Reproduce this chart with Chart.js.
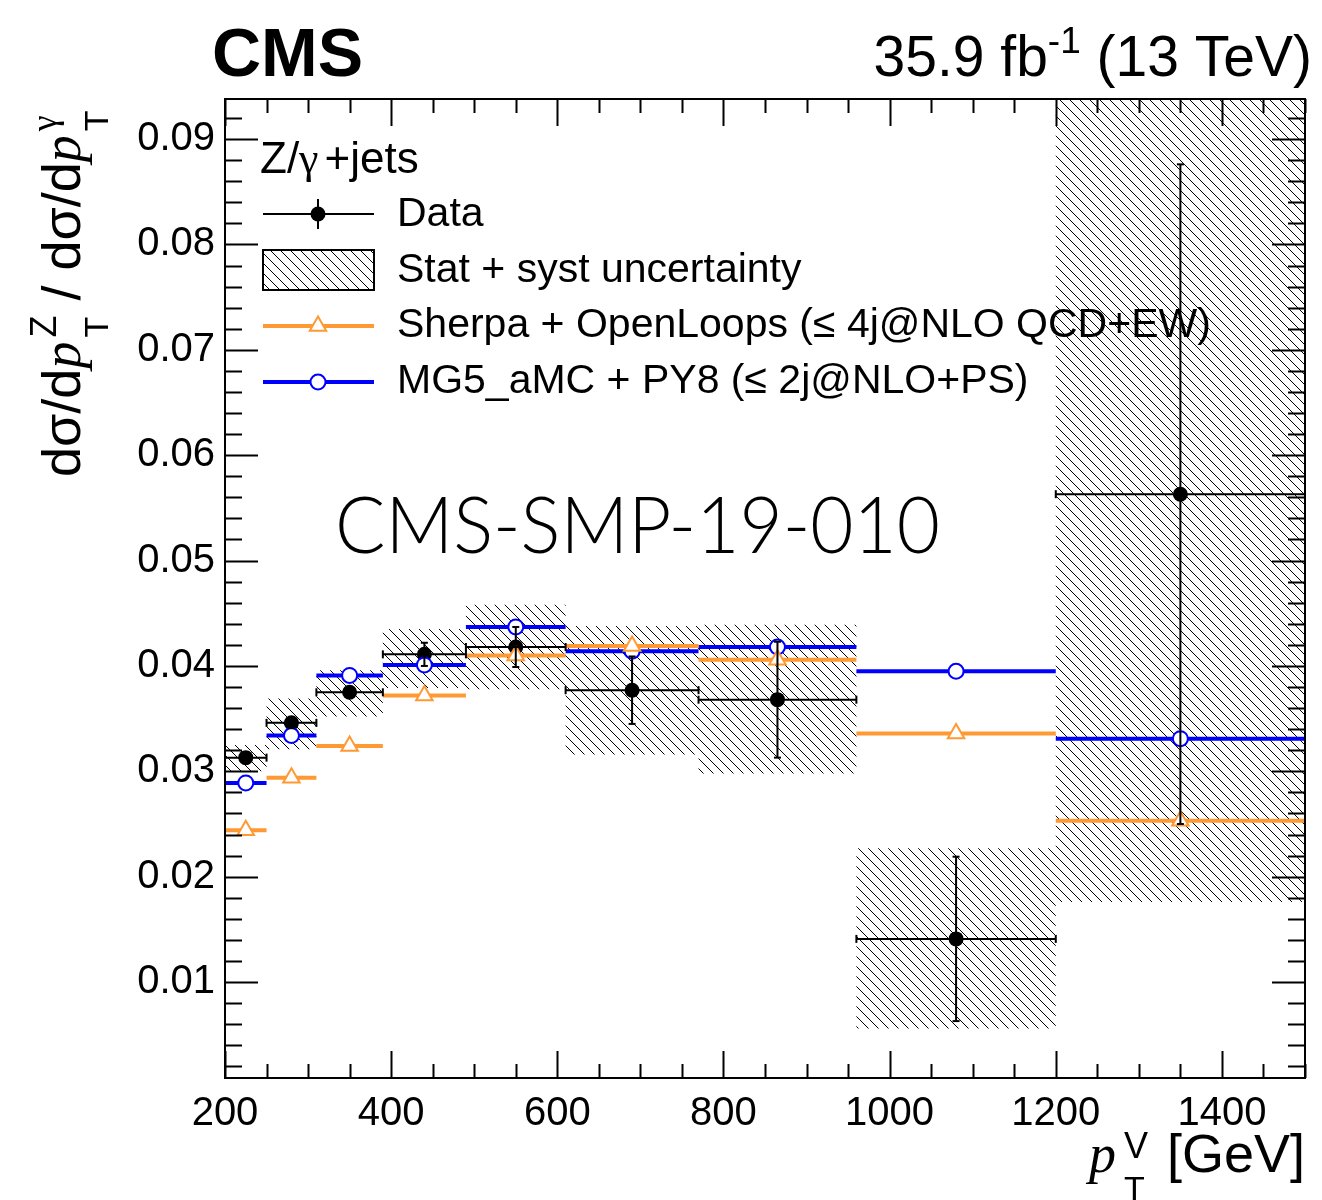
<!DOCTYPE html>
<html>
<head>
<meta charset="utf-8">
<title>Z/γ+jets ratio vs pT</title>
<script src="https://cdn.jsdelivr.net/npm/chart.js@4.4.1/dist/chart.umd.min.js"></script>
<style>
  html, body { margin: 0; padding: 0; background: #fff; }
  #chart { display: block; }
</style>
</head>
<body>
<canvas id="chart" width="1322" height="1200"></canvas>
<script>
// pT bins (GeV)
const binEdges = [200, 250, 310, 390, 490, 610, 770, 960, 1200, 1500];
const binCentres = [225, 280, 350, 440, 550, 690, 865, 1080, 1350];

// measured Z/gamma ratio with its error bar
const dataRatio = [0.0313, 0.0346, 0.0375, 0.0411, 0.0418, 0.0377, 0.0368, 0.0141, 0.0563];
const dataErr = [0.0005, 0.0005, 0.0005, 0.0011, 0.0019, 0.0032, 0.0055, 0.0078, 0.0313];

// stat + syst band
const bandLow = [0.0300, 0.0321, 0.0352, 0.0379, 0.0378, 0.0316, 0.0298, 0.0056, 0.0176];
const bandHigh = [0.0325, 0.0369, 0.0396, 0.0435, 0.0458, 0.0438, 0.0439, 0.0227, 0.0950];

// predictions
const sherpaRatio = [0.0244, 0.0294, 0.0324, 0.0372, 0.0410, 0.0419, 0.0406, 0.0336, 0.0253];
const mgRatio = [0.0289, 0.0334, 0.0391, 0.0401, 0.0437, 0.0414, 0.0418, 0.0395, 0.0331];

const xTicks = [200, 400, 600, 800, 1000, 1200, 1400];
const yTicks = [0.01, 0.02, 0.03, 0.04, 0.05, 0.06, 0.07, 0.08, 0.09];

const legendTitle = ['Z/', 'γ', '+jets'];
const legendLabels = [
  'Data',
  'Stat + syst uncertainty',
  'Sherpa + OpenLoops (≤ 4j@NLO QCD+EW)',
  'MG5_aMC + PY8 (≤ 2j@NLO+PS)'
];

const SANS = '"Liberation Sans", Arial, Helvetica, sans-serif';
const SERIF = '"Liberation Serif", "Times New Roman", serif';
const ORANGE = '#ff9933';
const BLUE = '#0000ff';

function hatchPattern() {
  const size = 10;
  const tile = document.createElement('canvas');
  tile.width = size;
  tile.height = size;
  const t = tile.getContext('2d');
  t.fillStyle = '#000';
  for (let i = 0; i < size; i++) t.fillRect(i, i, 1, 1);
  return t.createPattern(tile, 'repeat');
}
const HATCH = hatchPattern();

// one flat segment per bin, marker in the middle, gap after it
function binSegments(values) {
  const pts = [];
  values.forEach((v, i) => {
    pts.push({ x: binEdges[i], y: v }, { x: binCentres[i], y: v },
      { x: binEdges[i + 1], y: v }, { x: binEdges[i + 1], y: null });
  });
  return pts;
}

// horizontal bin-width bar and vertical error bar for every data point
function errorBars() {
  const pts = [];
  dataRatio.forEach((v, i) => {
    pts.push({ x: binEdges[i], y: v }, { x: binEdges[i + 1], y: v }, { x: binEdges[i + 1], y: null });
    pts.push({ x: binCentres[i], y: v - dataErr[i] }, { x: binCentres[i], y: v + dataErr[i] },
      { x: binCentres[i], y: null });
  });
  return pts;
}

function bandEdge(values) {
  return binEdges.map((x, i) => ({ x, y: values[Math.min(i, values.length - 1)] }));
}

// text runs with super/subscripts; a run may hold a stack of pieces sharing one advance
function drawRich(ctx, parts, x, y, measureOnly) {
  let cx = x;
  for (const p of parts) {
    const items = p.stack || [p];
    let w = 0;
    for (const it of items) {
      ctx.font = it.font;
      if (!measureOnly) ctx.fillText(it.text, cx, y + (it.dy || 0));
      w = Math.max(w, ctx.measureText(it.text).width);
    }
    cx += w + (p.gap || 0);
  }
  return cx - x;
}

const frame = {
  id: 'frame',
  afterDatasetsDraw(chart) {
    const { ctx, chartArea: a, scales: { x, y } } = chart;
    ctx.save();
    ctx.strokeStyle = '#000';
    ctx.lineWidth = 2;
    ctx.beginPath();
    // x ticks every 50 GeV, long ones on the labels
    for (let v = 200; v <= 1500; v += 50) {
      const px = Math.round(x.getPixelForValue(v)) + 0.5;
      const len = v % 200 === 0 ? 27 : 14;
      ctx.moveTo(px, a.bottom); ctx.lineTo(px, a.bottom - len);
      ctx.moveTo(px, a.top); ctx.lineTo(px, a.top + len);
    }
    // y ticks every 0.002
    for (let k = 1; k <= 46; k++) {
      const py = Math.round(y.getPixelForValue(k * 0.002)) + 0.5;
      const len = k % 5 === 0 ? 33 : 17;
      ctx.moveTo(a.left, py); ctx.lineTo(a.left + len, py);
      ctx.moveTo(a.right, py); ctx.lineTo(a.right - len, py);
    }
    ctx.stroke();
    ctx.strokeRect(a.left, a.top, a.right - a.left, a.bottom - a.top);
    ctx.restore();
  },
  afterDraw(chart) {
    const { ctx } = chart;
    ctx.save();
    ctx.fillStyle = '#000';
    ctx.textBaseline = 'alphabetic';

    // header
    ctx.font = `bold 68px ${SANS}`;
    ctx.fillText('CMS', 212, 76);
    const lumi = [
      { text: '35.9 fb', font: `57px ${SANS}` },
      { text: '-1', font: `37px ${SANS}`, dy: -23 },
      { text: ' (13 TeV)', font: `57px ${SANS}` }
    ];
    const lw = drawRich(ctx, lumi, 0, 0, true);
    drawRich(ctx, lumi, 1312 - lw, 76);

    // analysis tag, squeezed to its slot
    ctx.font = `300 78px Lato, ${SANS}`;
    const tag = 'CMS-SMP-19-010';
    const tw = ctx.measureText(tag).width;
    ctx.save();
    ctx.translate(335, 553);
    ctx.scale(605 / tw, 1);
    ctx.fillText(tag, 0, 0);
    ctx.restore();

    // legend
    drawRich(ctx, [
      { text: legendTitle[0], font: `44px ${SANS}` },
      { text: legendTitle[1], font: `44px ${SERIF}`, gap: 6 },
      { text: legendTitle[2], font: `44px ${SANS}` }
    ], 260, 173);

    const lx0 = 263, lx1 = 374, mx = 318;
    ctx.strokeStyle = '#000';
    ctx.lineWidth = 2;
    ctx.beginPath();
    ctx.moveTo(lx0, 214); ctx.lineTo(lx1, 214);
    ctx.moveTo(mx, 199); ctx.lineTo(mx, 229);
    ctx.stroke();
    Chart.helpers.drawPoint(ctx, { pointStyle: 'circle', radius: 7.5, rotation: 0, borderWidth: 0 }, mx, 214);

    ctx.fillStyle = HATCH;
    ctx.fillRect(lx0, 250, lx1 - lx0, 40);
    ctx.strokeRect(lx0, 250, lx1 - lx0, 40);

    [[ORANGE, 326, 'triangle', 9.5], [BLUE, 382, 'circle', 7.5]].forEach(([col, ly, style, r]) => {
      ctx.strokeStyle = col;
      ctx.lineWidth = 4;
      ctx.beginPath();
      ctx.moveTo(lx0, ly); ctx.lineTo(lx1, ly);
      ctx.stroke();
      ctx.fillStyle = '#fff';
      ctx.lineWidth = 2;
      Chart.helpers.drawPoint(ctx, { pointStyle: style, radius: r, rotation: 0, borderWidth: 2 }, mx, ly);
    });

    ctx.fillStyle = '#000';
    ctx.font = `41px ${SANS}`;
    [226, 282, 337, 393].forEach((by, i) => ctx.fillText(legendLabels[i], 397, by));

    // x title, right aligned on the frame
    const xTitle = [
      { text: 'p', font: `italic 54px ${SERIF}`, gap: 8 },
      { stack: [
        { text: 'V', font: `36px ${SANS}`, dy: -14 },
        { text: 'T', font: `34px ${SANS}`, dy: 28 }
      ], gap: 4 },
      { text: ' [GeV]', font: `54px ${SANS}` }
    ];
    const xw = drawRich(ctx, xTitle, 0, 0, true);
    drawRich(ctx, xTitle, 1305 - xw, 1172);

    // y title, rotated
    ctx.translate(80, 477);
    ctx.rotate(-Math.PI / 2);
    drawRich(ctx, [
      { text: 'dσ/d', font: `54px ${SANS}` },
      { text: 'p', font: `italic 54px ${SERIF}`, gap: 4 },
      { stack: [
        { text: 'Z', font: `36px ${SANS}`, dy: -24 },
        { text: 'T', font: `34px ${SANS}`, dy: 28 }
      ] },
      { text: ' / dσ/d', font: `54px ${SANS}` },
      { text: 'p', font: `italic 54px ${SERIF}`, gap: 4 },
      { stack: [
        { text: 'γ', font: `36px ${SERIF}`, dy: -24 },
        { text: 'T', font: `34px ${SANS}`, dy: 28 }
      ] }
    ], 0, 0);
    ctx.restore();
  }
};

new Chart(document.getElementById('chart'), {
  type: 'line',
  data: {
    datasets: [
      {
        label: 'Data errors',
        data: errorBars(),
        borderColor: '#000',
        borderWidth: 2,
        pointStyle: 'line',
        pointRadius: (c) => (c.index % 3 === 2 ? 0 : (c.index % 6 < 3 ? 4 : 3.5)),
        rotation: (c) => (c.index % 6 < 3 ? 90 : 0),
        pointBorderColor: '#000',
        pointBorderWidth: 2,
        order: 0
      },
      {
        label: legendLabels[2],
        data: binSegments(sherpaRatio),
        borderColor: ORANGE,
        borderWidth: 4,
        pointStyle: 'triangle',
        pointRadius: (c) => (c.index % 4 === 1 ? 9.5 : 0),
        pointBackgroundColor: '#fff',
        pointBorderColor: ORANGE,
        pointBorderWidth: 2,
        order: 1
      },
      {
        label: legendLabels[3],
        data: binSegments(mgRatio),
        borderColor: BLUE,
        borderWidth: 4,
        pointStyle: 'circle',
        pointRadius: (c) => (c.index % 4 === 1 ? 7.5 : 0),
        pointBackgroundColor: '#fff',
        pointBorderColor: BLUE,
        pointBorderWidth: 2,
        order: 2
      },
      {
        label: legendLabels[0],
        data: binCentres.map((x, i) => ({ x, y: dataRatio[i] })),
        showLine: false,
        pointStyle: 'circle',
        pointRadius: 7.5,
        pointBackgroundColor: '#000',
        pointBorderWidth: 0,
        order: 3
      },
      {
        label: 'band high',
        data: bandEdge(bandHigh),
        stepped: true,
        borderColor: 'rgba(0,0,0,0)',
        borderWidth: 0,
        pointRadius: 0,
        fill: false,
        order: 5
      },
      {
        label: legendLabels[1],
        data: bandEdge(bandLow),
        stepped: true,
        borderColor: 'rgba(0,0,0,0)',
        borderWidth: 0,
        pointRadius: 0,
        backgroundColor: HATCH,
        fill: '-1',
        order: 4
      }
    ]
  },
  options: {
    responsive: false,
    animation: false,
    devicePixelRatio: 1,
    events: [],
    layout: { padding: { top: 99, right: 17, left: 0, bottom: 0 } },
    plugins: { legend: { display: false }, tooltip: { enabled: false } },
    scales: {
      x: {
        type: 'linear',
        min: 200,
        max: 1500,
        grid: { display: false, drawTicks: false },
        border: { display: false },
        afterFit(s) { s.height = 122; },
        afterBuildTicks(s) { s.ticks = xTicks.map((v) => ({ value: v })); },
        ticks: {
          color: '#000',
          font: { family: SANS, size: 40 },
          padding: 12,
          maxRotation: 0,
          autoSkip: false,
          callback: (v) => String(v)
        }
      },
      y: {
        type: 'linear',
        min: 0.0009,
        max: 0.0938,
        grid: { display: false, drawTicks: false },
        border: { display: false },
        afterFit(s) { s.width = 225; },
        afterBuildTicks(s) { s.ticks = yTicks.map((v) => ({ value: v })); },
        ticks: {
          color: '#000',
          font: { family: SANS, size: 40 },
          padding: 10,
          autoSkip: false,
          callback: (v) => Number(v).toFixed(2)
        }
      }
    }
  },
  plugins: [frame]
});
</script>
</body>
</html>
